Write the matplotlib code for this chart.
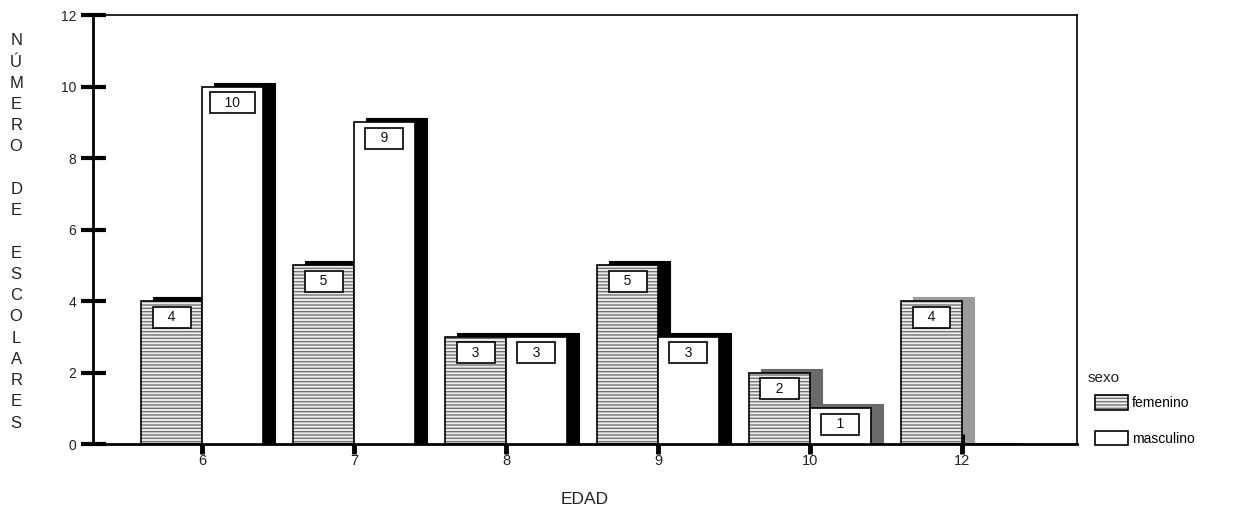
import matplotlib
matplotlib.use('Agg')
import numpy as np
import matplotlib.pyplot as plt

# datos
edades = ['6', '7', '8', '9', '10', '12']
femenino = [4, 5, 3, 5, 2, 4]
masculino = [10, 9, 3, 3, 1, 0]
sombra = ['black', 'black', 'black', 'black', '#6a6a6a', '#9a9a9a']

plt.rcParams['font.family'] = ['Liberation Sans', 'DejaVu Sans']

fig = plt.figure(figsize=(12.44, 5.12), dpi=100)
ax = fig.add_axes([0.0748, 0.1328, 0.7909, 0.8379])

x = np.arange(len(edades))
w = 0.40
dx, dy = 0.079, 0.11

for i in range(len(edades)):
    for left, v in ((x[i] - w, femenino[i]), (x[i], masculino[i])):
        if v == 0:
            continue
        ax.bar(left + dx, v + dy, width=w, align='edge', color=sombra[i],
               edgecolor=sombra[i], linewidth=0.8, zorder=1)

fem = ax.bar(x - w, femenino, width=w, align='edge', facecolor='#eeeeee',
             edgecolor='black', linewidth=1.2, hatch='-----', zorder=2,
             label='femenino')
mas = ax.bar(x, masculino, width=w, align='edge', facecolor='white',
             edgecolor='black', linewidth=1.2, zorder=3, label='masculino')
for b in fem:
    b._hatch_color = (0.45, 0.45, 0.45, 1)

# etiquetas de valor
for i in range(len(edades)):
    for cx, v in ((x[i] - w / 2, femenino[i]), (x[i] + w / 2, masculino[i])):
        if v == 0:
            continue
        ax.text(cx, v - 0.45, f"   {v}   ", ha='center', va='center',
                fontsize=10, color='#111111', zorder=5,
                bbox=dict(boxstyle='square,pad=0.25', facecolor='white',
                          edgecolor='black', linewidth=1.2))

ax.set_xlim(-0.717, 5.757)
ax.set_ylim(0, 12)
ax.set_xticks(x)
ax.set_xticklabels(edades)
ax.set_yticks(range(0, 13, 2))
ax.tick_params(axis='y', direction='inout', length=18, width=3, pad=3,
               labelsize=10, colors='black', labelcolor='#222222')
ax.tick_params(axis='x', direction='inout', length=14, width=3.5, pad=0.5,
               labelsize=10.5, colors='black', labelcolor='#222222')

ax.spines['left'].set_linewidth(2)
ax.spines['bottom'].set_linewidth(2)
ax.spines['top'].set_linewidth(1.2)
ax.spines['right'].set_linewidth(1.2)

ax.set_xlabel('EDAD', fontsize=12.5, color='#222222')
ax.xaxis.set_label_coords(0.5, -0.112)

ylab = '\n'.join(c if c != ' ' else '' for c in 'NÚMERO DE ESCOLARES')
fig.text(0.013, 0.547, ylab, ha='center', va='center', fontsize=12,
         color='#222222', linespacing=1.52)

fig.text(1088 / 1244, 1 - 378 / 512, 'sexo', ha='left', va='center',
         fontsize=11, color='#222222')
leg = ax.legend(handles=[fem, mas], loc='upper left',
                bbox_to_anchor=(0.870, 0.252), bbox_transform=fig.transFigure,
                frameon=False, fontsize=10,
                handlelength=2.4, handleheight=1.2, labelspacing=1.5,
                handletextpad=0.3)

fig.savefig('out.png', dpi=100)
